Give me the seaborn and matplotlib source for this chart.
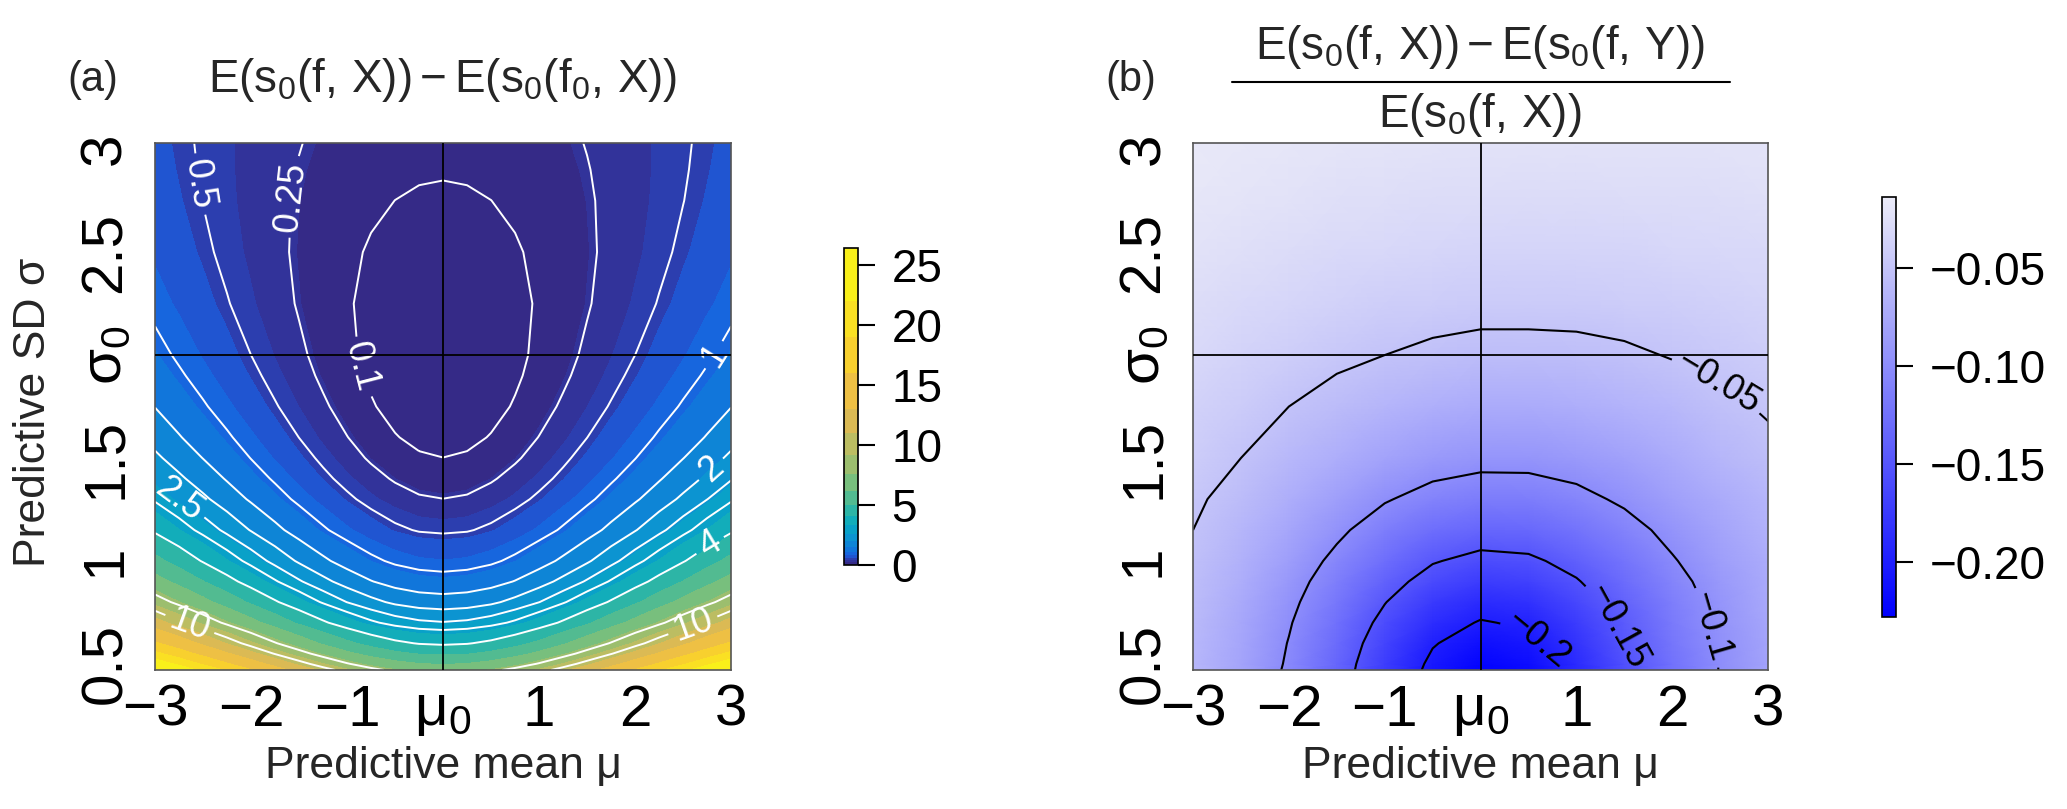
import matplotlib
matplotlib.use("Agg")
import matplotlib.pyplot as plt
from matplotlib.colors import ListedColormap, BoundaryNorm, Normalize
from matplotlib.cm import ScalarMappable
from matplotlib.lines import Line2D
import numpy as np
import seaborn as sns

# (a) E(s0(f,X)) - E(s0(f0,X)), one row per sigma
mu_a = [-3, -2.75, -2.5, -2.25, -2, -1.75, -1.5, -1.25, -1, -0.75, -0.5, -0.25, 0,
        0.25, 0.5, 0.75, 1, 1.25, 1.5, 1.75, 2, 2.25, 2.5, 2.75, 3]
sigma_a = [0.47, 0.5, 0.55, 0.6, 0.7, 0.8, 0.9, 1.0, 1.15, 1.3, 1.4, 1.5, 1.6, 1.75,
           1.9, 2.0, 2.25, 2.5, 2.75, 2.9, 3.03]
gap_a = [
    [27.48, 24.22, 21.25, 18.56, 16.16, 14.04, 12.20, 10.64, 9.37, 8.38, 7.67, 7.25, 7.11, 7.25, 7.67, 8.38, 9.37, 10.64, 12.20, 14.04, 16.16, 18.56, 21.25, 24.22, 27.48],
    [24.11, 21.24, 18.61, 16.24, 14.11, 12.24, 10.61, 9.24, 8.11, 7.24, 6.61, 6.24, 6.11, 6.24, 6.61, 7.24, 8.11, 9.24, 10.61, 12.24, 14.11, 16.24, 18.61, 21.24, 24.11],
    [19.70, 17.32, 15.15, 13.19, 11.43, 9.88, 8.54, 7.40, 6.47, 5.75, 5.23, 4.92, 4.82, 4.92, 5.23, 5.75, 6.47, 7.40, 8.54, 9.88, 11.43, 13.19, 15.15, 17.32, 19.70],
    [16.35, 14.36, 12.53, 10.88, 9.41, 8.10, 6.98, 6.02, 5.24, 4.63, 4.20, 3.94, 3.85, 3.94, 4.20, 4.63, 5.24, 6.02, 6.98, 8.10, 9.41, 10.88, 12.53, 14.36, 16.35],
    [11.72, 10.25, 8.91, 7.70, 6.61, 5.66, 4.83, 4.13, 3.55, 3.11, 2.79, 2.60, 2.53, 2.60, 2.79, 3.11, 3.55, 4.13, 4.83, 5.66, 6.61, 7.70, 8.91, 10.25, 11.72],
    [8.74, 7.62, 6.59, 5.66, 4.83, 4.10, 3.47, 2.93, 2.49, 2.15, 1.90, 1.76, 1.71, 1.76, 1.90, 2.15, 2.49, 2.93, 3.47, 4.10, 4.83, 5.66, 6.59, 7.62, 8.74],
    [6.73, 5.84, 5.03, 4.30, 3.64, 3.06, 2.56, 2.14, 1.79, 1.52, 1.32, 1.21, 1.17, 1.21, 1.32, 1.52, 1.79, 2.14, 2.56, 3.06, 3.64, 4.30, 5.03, 5.84, 6.73],
    [5.31, 4.59, 3.93, 3.34, 2.81, 2.34, 1.93, 1.59, 1.31, 1.09, 0.93, 0.84, 0.81, 0.84, 0.93, 1.09, 1.31, 1.59, 1.93, 2.34, 2.81, 3.34, 3.93, 4.59, 5.31],
    [3.86, 3.32, 2.82, 2.37, 1.97, 1.62, 1.31, 1.05, 0.84, 0.67, 0.55, 0.48, 0.46, 0.48, 0.55, 0.67, 0.84, 1.05, 1.31, 1.62, 1.97, 2.37, 2.82, 3.32, 3.86],
    [2.92, 2.49, 2.10, 1.75, 1.44, 1.16, 0.92, 0.72, 0.55, 0.42, 0.33, 0.27, 0.252, 0.27, 0.33, 0.42, 0.55, 0.72, 0.92, 1.16, 1.44, 1.75, 2.10, 2.49, 2.92],
    [2.46, 2.09, 1.76, 1.46, 1.18, 0.95, 0.74, 0.56, 0.42, 0.31, 0.23, 0.18, 0.163, 0.18, 0.23, 0.31, 0.42, 0.56, 0.74, 0.95, 1.18, 1.46, 1.76, 2.09, 2.46],
    [2.10, 1.78, 1.49, 1.23, 0.99, 0.78, 0.60, 0.45, 0.32, 0.226, 0.157, 0.115, 0.101, 0.115, 0.157, 0.226, 0.32, 0.45, 0.60, 0.78, 0.99, 1.23, 1.49, 1.78, 2.10],
    [1.82, 1.53, 1.28, 1.05, 0.84, 0.66, 0.498, 0.36, 0.254, 0.168, 0.107, 0.070, 0.058, 0.070, 0.107, 0.168, 0.254, 0.36, 0.498, 0.66, 0.84, 1.05, 1.28, 1.53, 1.82],
    [1.489, 1.254, 1.040, 0.846, 0.673, 0.519, 0.387, 0.275, 0.183, 0.111, 0.060, 0.030, 0.020, 0.030, 0.060, 0.111, 0.183, 0.275, 0.387, 0.519, 0.673, 0.846, 1.040, 1.254, 1.489],
    [1.249, 1.050, 0.868, 0.704, 0.557, 0.427, 0.314, 0.219, 0.141, 0.081, 0.037, 0.011, 0.003, 0.011, 0.037, 0.081, 0.141, 0.219, 0.314, 0.427, 0.557, 0.704, 0.868, 1.050, 1.249],
    [1.125, 0.945, 0.781, 0.633, 0.500, 0.383, 0.281, 0.195, 0.125, 0.070, 0.031, 0.008, 0.000, 0.008, 0.031, 0.070, 0.125, 0.195, 0.281, 0.383, 0.500, 0.633, 0.781, 0.945, 1.125],
    [0.902, 0.760, 0.630, 0.513, 0.408, 0.316, 0.235, 0.167, 0.112, 0.069, 0.038, 0.019, 0.013, 0.019, 0.038, 0.069, 0.112, 0.167, 0.235, 0.316, 0.408, 0.513, 0.630, 0.760, 0.902],
    [0.763, 0.648, 0.543, 0.448, 0.363, 0.288, 0.223, 0.168, 0.123, 0.088, 0.063, 0.048, 0.043, 0.048, 0.063, 0.088, 0.123, 0.168, 0.223, 0.288, 0.363, 0.448, 0.543, 0.648, 0.763],
    [0.678, 0.583, 0.496, 0.418, 0.347, 0.285, 0.232, 0.186, 0.149, 0.120, 0.0995, 0.087, 0.083, 0.087, 0.0995, 0.120, 0.149, 0.186, 0.232, 0.285, 0.347, 0.418, 0.496, 0.583, 0.678],
    [0.645, 0.559, 0.481, 0.410, 0.347, 0.292, 0.243, 0.202, 0.169, 0.143, 0.124, 0.113, 0.109, 0.113, 0.124, 0.143, 0.169, 0.202, 0.243, 0.292, 0.347, 0.410, 0.481, 0.559, 0.645],
    [0.624, 0.545, 0.474, 0.409, 0.351, 0.300, 0.256, 0.218, 0.188, 0.164, 0.147, 0.137, 0.133, 0.137, 0.147, 0.164, 0.188, 0.218, 0.256, 0.300, 0.351, 0.409, 0.474, 0.545, 0.624],
]

# (b) relative difference, one row per sigma
mu_b = [-3, -2.5, -2, -1.5, -1, -0.5, 0, 0.5, 1, 1.5, 2, 2.5, 3]
sigma_b = [0.47, 0.5, 0.6, 0.7, 0.8, 0.9, 1.0, 1.15, 1.3, 1.5, 1.75, 2.0, 2.25, 2.5, 2.75, 3.03]
ratio_b = [
    [-0.061, -0.079, -0.104, -0.136, -0.173, -0.208, -0.226, -0.218, -0.190, -0.156, -0.124, -0.099, -0.080],
    [-0.061, -0.079, -0.103, -0.135, -0.172, -0.206, -0.224, -0.216, -0.188, -0.155, -0.124, -0.099, -0.080],
    [-0.060, -0.077, -0.101, -0.131, -0.166, -0.198, -0.214, -0.207, -0.182, -0.150, -0.121, -0.097, -0.079],
    [-0.059, -0.076, -0.098, -0.126, -0.158, -0.187, -0.202, -0.196, -0.173, -0.145, -0.117, -0.095, -0.077],
    [-0.057, -0.073, -0.094, -0.120, -0.149, -0.175, -0.188, -0.183, -0.163, -0.138, -0.113, -0.092, -0.075],
    [-0.055, -0.070, -0.090, -0.113, -0.139, -0.161, -0.173, -0.169, -0.152, -0.130, -0.108, -0.089, -0.073],
    [-0.054, -0.067, -0.085, -0.106, -0.128, -0.148, -0.158, -0.155, -0.141, -0.122, -0.102, -0.085, -0.071],
    [-0.050, -0.062, -0.077, -0.095, -0.113, -0.128, -0.135, -0.133, -0.123, -0.109, -0.093, -0.079, -0.066],
    [-0.047, -0.057, -0.070, -0.084, -0.098, -0.109, -0.115, -0.114, -0.107, -0.096, -0.084, -0.072, -0.062],
    [-0.042, -0.050, -0.060, -0.070, -0.080, -0.088, -0.092, -0.092, -0.088, -0.081, -0.072, -0.063, -0.055],
    [-0.037, -0.043, -0.050, -0.057, -0.064, -0.069, -0.072, -0.072, -0.070, -0.065, -0.060, -0.054, -0.048],
    [-0.031, -0.036, -0.041, -0.046, -0.050, -0.054, -0.056, -0.056, -0.055, -0.053, -0.049, -0.045, -0.041],
    [-0.027, -0.030, -0.034, -0.037, -0.040, -0.042, -0.044, -0.044, -0.044, -0.042, -0.040, -0.038, -0.035],
    [-0.023, -0.025, -0.028, -0.030, -0.032, -0.034, -0.035, -0.035, -0.035, -0.035, -0.033, -0.032, -0.030],
    [-0.019, -0.021, -0.023, -0.025, -0.026, -0.028, -0.028, -0.029, -0.029, -0.028, -0.028, -0.027, -0.025],
    [-0.016, -0.018, -0.019, -0.020, -0.021, -0.022, -0.023, -0.023, -0.023, -0.023, -0.023, -0.022, -0.021],
]

levels_a = [0.1, 0.25, 0.5, 1, 1.5, 2, 2.5, 3, 4, 8, 10]
levels_b = [-0.2, -0.15, -0.1, -0.05]
# colour breaks of panel (a)
breaks_a = [0, 0.23, 0.39, 0.57, 0.8, 1.1, 1.5, 2.0, 2.6, 3.3, 4.1, 5.0, 6.2, 7.6,
            9.2, 11, 13, 16, 19, 22, 26.4]
range_b = (-0.228, -0.014)

sns.set_theme(style="white")
plt.rcParams['font.family'] = ['Liberation Sans', 'DejaVu Sans']
plt.rcParams['mathtext.fontset'] = 'custom'
plt.rcParams['mathtext.rm'] = 'Liberation Sans'
plt.rcParams['mathtext.it'] = 'Liberation Sans:italic'
plt.rcParams['axes.unicode_minus'] = True

parula = sns.blend_palette(['#352a87', '#2f3aa8', '#1a5fe0', '#1079da', '#0c93d2', '#07a9c2',
                            '#38b99e', '#7cbf7b', '#b7bd64', '#e9b94e', '#fad32a', '#f9f01a'],
                           n_colors=len(breaks_a) - 1)
cmap_a = ListedColormap(parula)
cmap_b = sns.blend_palette(['#0000ff', '#ebebf8'], as_cmap=True)

Z_a = np.array(gap_a)
Z_b = np.array(ratio_b)

fig = plt.figure(figsize=(20.67, 8.09), dpi=100)
ax_a = fig.add_axes([0.0750, 0.1718, 0.2787, 0.6514])
ax_b = fig.add_axes([0.5772, 0.1718, 0.2782, 0.6514])
cax_a = fig.add_axes([0.4083, 0.3016, 0.0068, 0.3918])
cax_b = fig.add_axes([0.9105, 0.2373, 0.0068, 0.5192])

# panel (a)
fill_breaks = breaks_a[:-1] + [max(breaks_a[-1], Z_a.max()) + 1]
ax_a.contourf(mu_a, sigma_a, Z_a, levels=fill_breaks, cmap=cmap_a,
              norm=BoundaryNorm(fill_breaks, cmap_a.N))
cs_a = ax_a.contour(mu_a, sigma_a, Z_a, levels=levels_a, colors='white', linewidths=1.4)

# panel (b)
ax_b.pcolormesh(mu_b, sigma_b, Z_b, shading='gouraud', cmap=cmap_b,
                norm=Normalize(*range_b))
cs_b = ax_b.contour(mu_b, sigma_b, Z_b, levels=levels_b, colors='black',
                    linewidths=1.5, linestyles='solid')


def fmt(v):
    return f"{v:g}".replace("-", "\u2212")


ax_a.clabel(cs_a, fmt=fmt, fontsize=26, inline=True, inline_spacing=6,
            manual=[(-2.54, 2.83), (-1.58, 2.77), (-0.86, 1.94), (2.9, 1.98),
                    (2.8, 1.44), (-2.75, 1.3), (2.8, 1.06), (-2.64, 0.69), (2.62, 0.66)])
ax_b.clabel(cs_b, fmt=fmt, fontsize=26, inline=True, inline_spacing=6,
            manual=[(2.45, 1.84), (2.4, 0.68), (1.32, 0.66), (0.51, 0.58)])

minus = "\u2212"
for ax in (ax_a, ax_b):
    ax.axvline(0, color='black', lw=1.3, zorder=5)
    ax.axhline(2, color='black', lw=1.3, zorder=5)
    ax.set_xlim(-3, 3)
    ax.set_ylim(0.47, 3.03)
    ax.set_xticks([-3, -2, -1, 0, 1, 2, 3])
    ax.set_xticklabels([minus + "3", minus + "2", minus + "1", r"$\mathrm{\mu_0}$", "1", "2", "3"])
    ax.set_yticks([0.5, 1, 1.5, 2, 2.5, 3])
    ax.set_yticklabels(["0.5", "1", "1.5", r"$\mathrm{\sigma_0}$", "2.5", "3"],
                       rotation=90, va='center')
    ax.tick_params(axis='both', length=0, labelsize=42, colors='black')
    ax.tick_params(axis='x', pad=10)
    ax.tick_params(axis='y', pad=16)
    for sp in ax.spines.values():
        sp.set_visible(True)
        sp.set_color('#555555')
        sp.set_linewidth(1.2)

# colour bars
cb_a = fig.colorbar(ScalarMappable(norm=BoundaryNorm(breaks_a, cmap_a.N), cmap=cmap_a),
                    cax=cax_a, spacing='proportional', ticks=[0, 5, 10, 15, 20, 25])
cb_b = fig.colorbar(ScalarMappable(norm=Normalize(*range_b), cmap=cmap_b), cax=cax_b,
                    ticks=[-0.2, -0.15, -0.1, -0.05])
cb_b.ax.set_yticklabels([minus + "0.20", minus + "0.15", minus + "0.10", minus + "0.05"])
for cb in (cb_a, cb_b):
    cb.ax.minorticks_off()
    cb.outline.set_edgecolor('black')
    cb.outline.set_linewidth(1.2)
    cb.ax.tick_params(labelsize=33, length=12, width=1.5, pad=12, colors='black')

# axis labels, titles, panel tags
for xc in (0.2143, 0.7160):
    fig.text(xc, 0.052, "Predictive mean \u03bc", fontsize=32, ha='center', va='center')
fig.text(0.0164, 0.49, "Predictive SD \u03c3", fontsize=32, rotation=90,
         ha='center', va='center')

fig.text(0.045, 0.901, "(a)", fontsize=30, ha='center', va='center')
fig.text(0.547, 0.901, "(b)", fontsize=30, ha='center', va='center')
fig.text(0.2143, 0.901,
         r"$\mathregular{E(s_0(f,\,X))-E(s_0(f_0,\,X))}$",
         fontsize=33, ha='center', va='center')
fig.text(0.716, 0.942,
         r"$\mathregular{E(s_0(f,\,X))-E(s_0(f,\,Y))}$",
         fontsize=33, ha='center', va='center')
fig.text(0.716, 0.858, r"$\mathregular{E(s_0(f,\,X))}$",
         fontsize=33, ha='center', va='center')
fig.add_artist(Line2D([0.596, 0.837], [0.899, 0.899], color='black', lw=1.5,
                      transform=fig.transFigure))

fig.savefig("out.png", dpi=100)
